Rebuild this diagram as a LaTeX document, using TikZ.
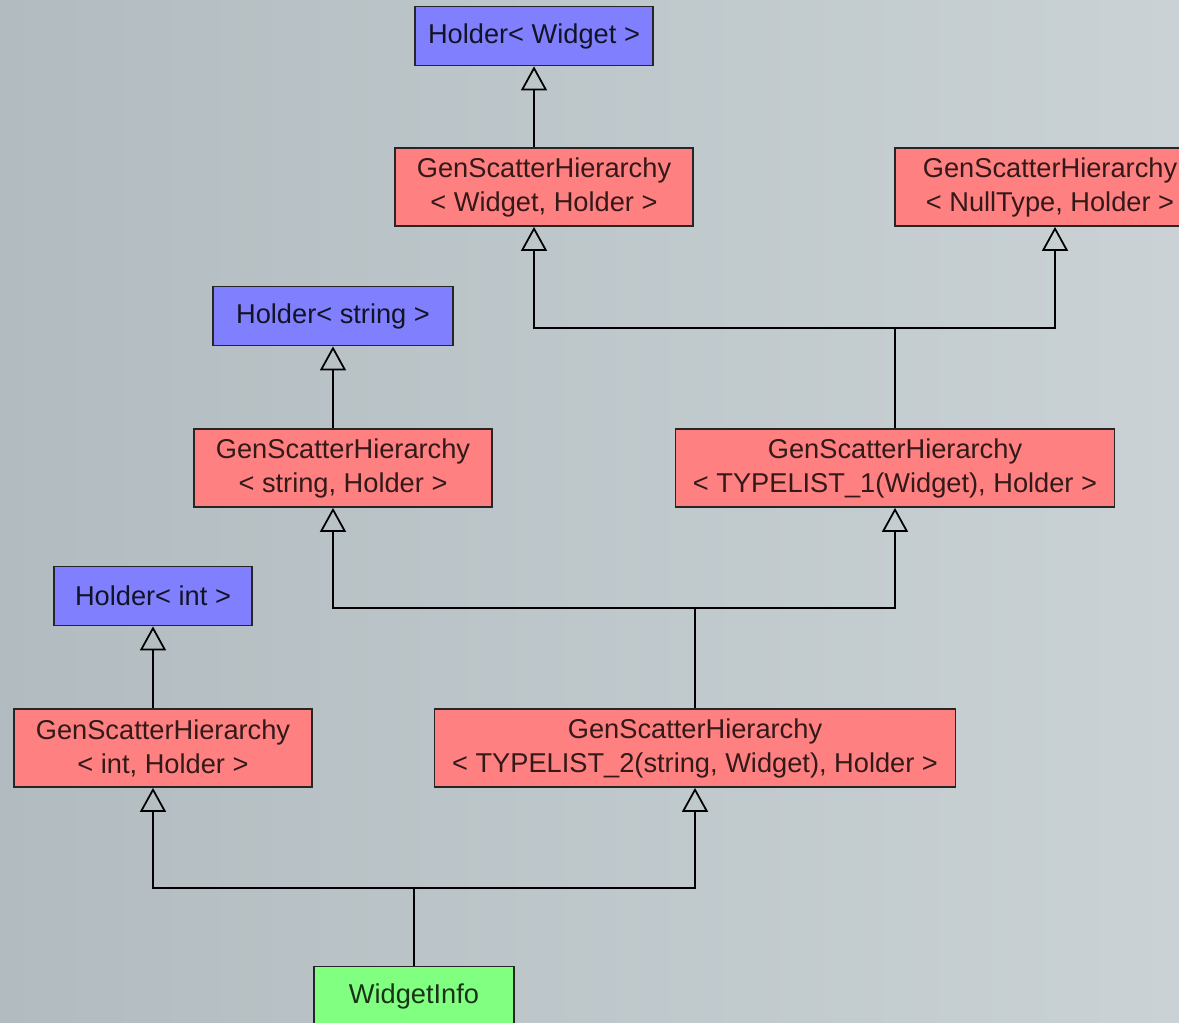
\documentclass[tikz,border=0pt]{standalone}
\usepackage{fontspec}
\setmainfont{Liberation Sans}
\usetikzlibrary{arrows.meta}
\definecolor{hblue}{RGB}{128,128,255}
\definecolor{gred}{RGB}{255,128,128}
\definecolor{igreen}{RGB}{128,255,128}
\definecolor{bgleft}{RGB}{178,188,192}
\definecolor{bgright}{RGB}{202,210,213}
\begin{document}
\begin{tikzpicture}[x=0.02cm,y=-0.02cm,
    box/.style={draw=black!85,line width=1pt,inner sep=0pt,align=center,
                font=\fontsize{15.5}{19.3}\selectfont},
    holder/.style={box,fill=hblue,text=hblue!15!black,minimum height=1.18cm},
    gsh/.style={box,fill=gred,text=gred!20!black,minimum height=1.56cm,minimum width=5.96cm},
    info/.style={box,fill=igreen,text=igreen!20!black,minimum height=1.18cm},
    inh/.style={line width=1pt,-{Triangle[open,length=0.48cm,width=0.52cm]}},
    bus/.style={line width=1pt}]
  \useasboundingbox (0,0) rectangle (1179,1022);
  \clip (0,0) rectangle (1179,1022);
  \shade[left color=bgleft,right color=bgright] (0,0) rectangle (1179,1022);

  %% Holder bases
  \node[holder,minimum width=4.76cm] (hw) at (534,36)  {Holder< Widget >};
  \node[holder,minimum width=4.8cm]  (hs) at (333,316) {Holder< string >};
  \node[holder,minimum width=3.96cm] (hi) at (153,596) {Holder< int >};

  %% Scatter hierarchy units
  \node[gsh] (gw) at (544,187)  {GenScatterHierarchy\\< Widget, Holder >};
  \node[gsh,minimum width=6.2cm] (gn) at (1050,187) {GenScatterHierarchy\\< NullType, Holder >};
  \node[gsh] (gs) at (343,468)  {GenScatterHierarchy\\< string, Holder >};
  \node[gsh,minimum width=8.78cm] (t1) at (895,468)
        {GenScatterHierarchy\\< TYPELIST\_1(Widget), Holder >};
  \node[gsh] (gi) at (163,748)  {GenScatterHierarchy\\< int, Holder >};
  \node[gsh,minimum width=10.42cm] (t2) at (695,748)
        {GenScatterHierarchy\\< TYPELIST\_2(string, Widget), Holder >};

  %% Final class
  \node[info,minimum width=4cm] (wi) at (414,996) {WidgetInfo};

  %% Single inheritance
  \draw[inh] (hw.south |- gw.north) -- (hw.south);
  \draw[inh] (hs.south |- gs.north) -- (hs.south);
  \draw[inh] (hi.south |- gi.north) -- (hi.south);

  %% Double inheritance buses
  \coordinate (j1) at (t1.north |- 0,328);
  \draw[bus] (t1.north) -- (j1);
  \draw[inh] (j1) -| (hw.south |- gw.south);
  \draw[inh] (j1) -| ([xshift=0.1cm]gn.south);

  \coordinate (j2) at (t2.north |- 0,608);
  \draw[bus] (t2.north) -- (j2);
  \draw[inh] (j2) -| (hs.south |- gs.south);
  \draw[inh] (j2) -| (t1.south);

  \coordinate (j3) at (wi.north |- 0,888);
  \draw[bus] (wi.north) -- (j3);
  \draw[inh] (j3) -| (hi.south |- gi.south);
  \draw[inh] (j3) -| (t2.south);
\end{tikzpicture}
\end{document}
